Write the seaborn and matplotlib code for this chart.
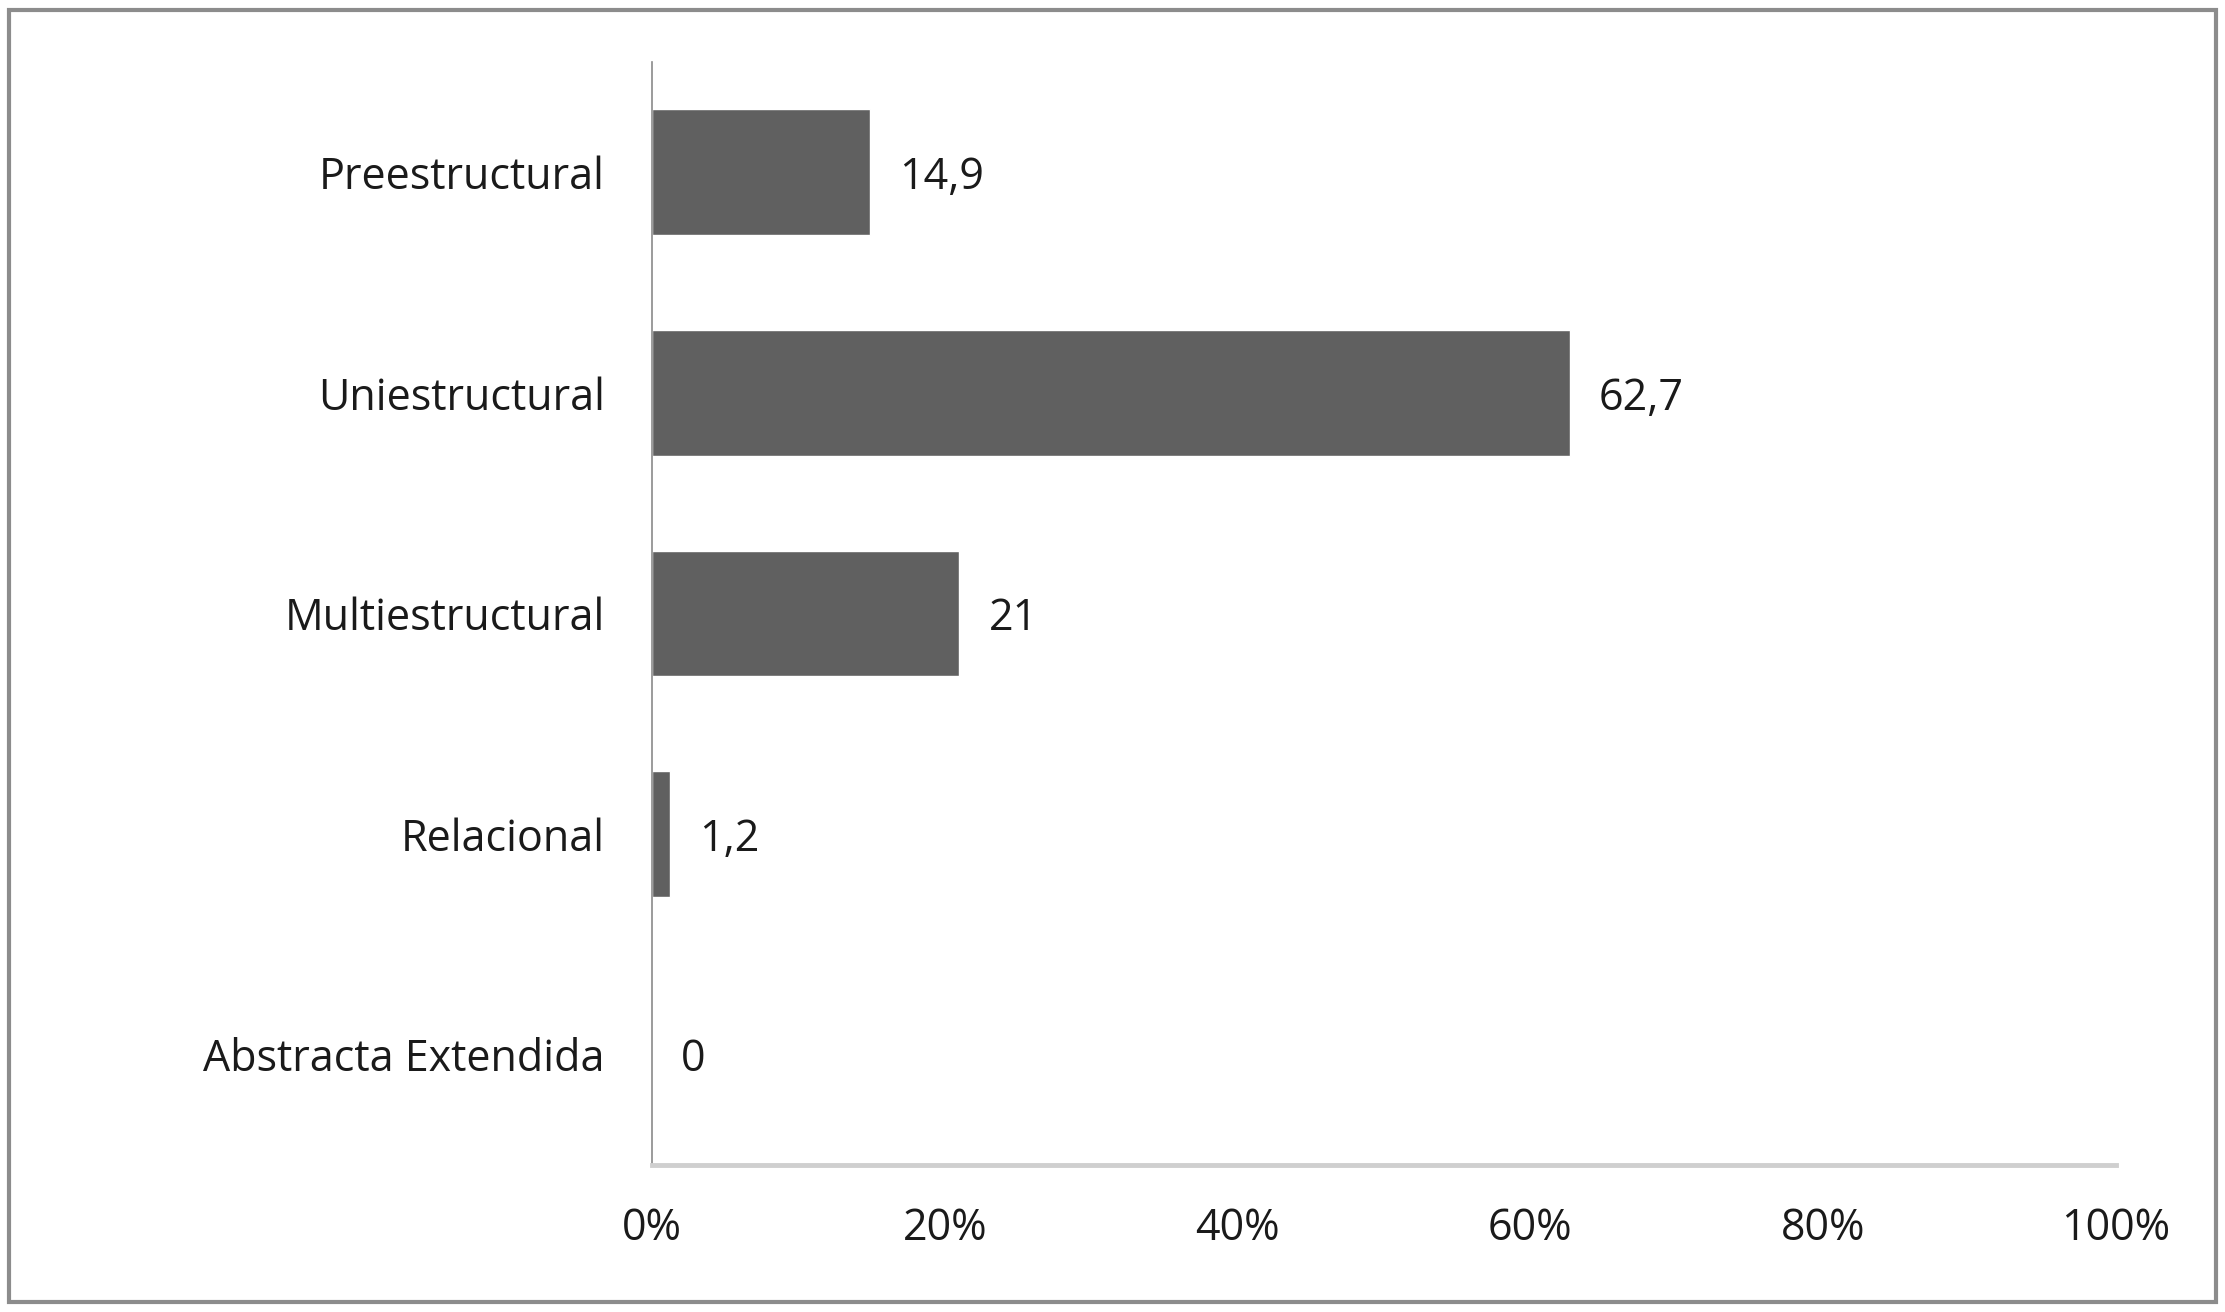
import pandas as pd
import matplotlib.pyplot as plt
import seaborn as sb
from matplotlib.patches import Rectangle

categorias = ['Preestructural', 'Uniestructural', 'Multiestructural', 'Relacional', 'Abstracta Extendida']
porcentajes = [14.9, 62.7, 21, 1.2, 0]
ticks_x = [0, 20, 40, 60, 80, 100]

sb.set_theme(style="white")
plt.rcParams['font.family'] = ['Open Sans', 'DejaVu Sans']

df = pd.DataFrame({'nivel': categorias, 'porcentaje': porcentajes})

fig = plt.figure(figsize=(22.25, 13.12), dpi=100)
ax = fig.add_axes([652/2225, 1 - 1165/1312, 1464/2225, 1103/1312])

sb.barplot(data=df, y='nivel', x='porcentaje', color='#606060', saturation=1,
           width=0.57, orient='h', ax=ax)

etiquetas = [f"{v:g}".replace('.', ',') for v in porcentajes]
textos = ax.bar_label(ax.containers[0], labels=etiquetas, padding=21, fontsize=31, color='#1a1a1a')
for t in textos:
    t.set_verticalalignment('center_baseline')

ax.set_xlim(0, 100)
ax.set_ylim(4.5, -0.5)
ax.set_xticks(ticks_x)
ax.set_xticklabels([f"{t}%" for t in ticks_x])
ax.set_xlabel('')
ax.set_ylabel('')
ax.tick_params(axis='x', length=0, pad=30, labelsize=31, labelcolor='#1a1a1a')
ax.tick_params(axis='y', length=0, pad=34, labelsize=31, labelcolor='#1a1a1a')

for lado in ['top', 'right']:
    ax.spines[lado].set_visible(False)
ax.spines['left'].set_color('#8a8a8a')
ax.spines['left'].set_linewidth(1.2)
ax.spines['bottom'].set_color('#cfcfcf')
ax.spines['bottom'].set_linewidth(3.5)

# marco exterior
fig.patches.append(Rectangle((9/2225, 10/1312), 2207/2225, 1292/1312,
                             transform=fig.transFigure, fill=False,
                             edgecolor='#8c8c8c', linewidth=3))

plt.savefig('out.png', dpi=100)
